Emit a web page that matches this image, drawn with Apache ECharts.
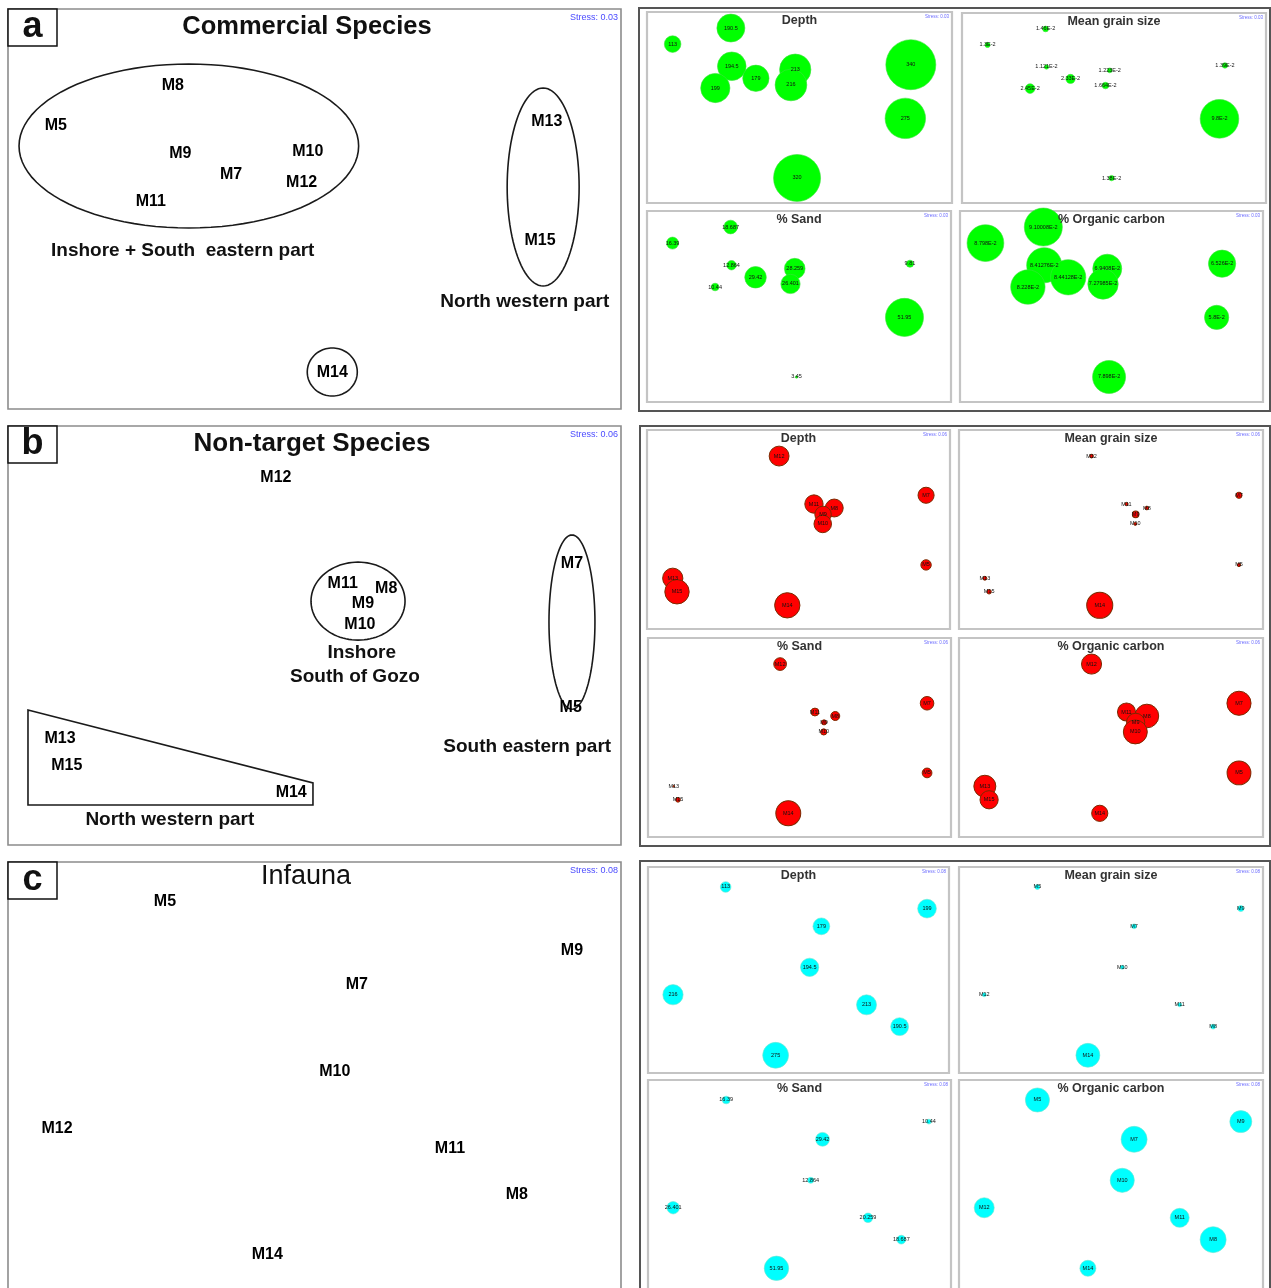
<!DOCTYPE html>
<html><head><meta charset="utf-8">
<script src="https://cdn.jsdelivr.net/npm/echarts@6/dist/echarts.min.js"></script>
<style>html,body{margin:0;padding:0;background:#fff}#c{width:1271px;height:1288px}</style>
</head><body><div id="c"></div>
<script>
// ---------------- DATA ----------------
// Row a : Commercial species (MDS ordination, axis units 0-100)
const stationsA = ['M5','M8','M9','M11','M7','M10','M12','M13','M15','M14'];
const mdsAx = [7.8, 26.9, 28.1, 23.3, 36.4, 48.9, 47.9, 87.9, 86.8, 52.9];
const mdsAy = [70.8, 80.8, 63.8, 51.8, 58.5, 64.3, 56.5, 71.8, 42.0, 9.0];
const bubAx = [8.4, 27.5, 27.8, 22.4, 35.7, 48.6, 47.2, 86.5, 84.7, 49.2];
const bubAy = [83.2, 91.6, 71.6, 60.2, 65.3, 69.8, 61.8, 72.4, 44.3, 13.1];
const depthA  = [113, 190.5, 194.5, 199, 179, 213, 216, 340, 275, 320];
const grainA  = [0.013, 0.0146, 0.01121, 0.0245, 0.0233, 0.01223, 0.01664, 0.0139, 0.098, 0.0138];
const sandA   = [16.39, 18.687, 12.864, 10.44, 29.42, 28.259, 26.401, 9.81, 51.95, 3.45];
const carbonA = [0.08798, 0.0910008, 0.0841276, 0.08228, 0.0844128, 0.069408, 0.0727985, 0.06526, 0.058, 0.07898];
const groupLabelsA = [['Inshore + South  eastern part', 28.5, 39.5], ['North western part', 84.3, 26.75]];
const ellipsesA = [[29.5, 65.75, 27.7, 20.5], [87.3, 55.5, 5.87, 24.75], [52.9, 9.25, 4.08, 6.0]];

// Row b : Non-target species
const stationsB = ['M12','M11','M8','M9','M10','M7','M5','M13','M15','M14'];
const mdsBx = [43.7, 54.6, 61.7, 57.9, 57.4, 92.0, 91.8, 8.5, 9.6, 46.2];
const mdsBy = [87.6, 62.5, 61.3, 57.5, 52.7, 67.1, 32.9, 25.5, 18.9, 12.4];
const bubBx = [43.6, 55.1, 61.8, 58.1, 58.0, 92.1, 92.1, 8.5, 9.9, 46.3];
const bubBy = [86.9, 62.8, 60.8, 57.6, 52.8, 67.2, 32.2, 25.5, 18.7, 11.9];
const depthB  = [216, 199, 194.5, 179, 190.5, 175, 113, 220, 265, 275];
const grainB  = [0.0139, 0.0122, 0.0138, 0.0245, 0.0112, 0.0233, 0.013, 0.0146, 0.0166, 0.098];
const sandB   = [26.401, 16.39, 18.687, 10.44, 12.864, 28.259, 20.259, 3.45, 9.81, 51.95];
const carbonB = [0.0773, 0.0694, 0.0910, 0.0703, 0.0921, 0.0928, 0.0915, 0.0846, 0.0700, 0.0622];
const groupLabelsB = [['Inshore', 57.7, 45.8], ['South of Gozo', 56.6, 40.1], ['South eastern part', 84.7, 23.4], ['North western part', 26.4, 6.0]];
const ellipsesB = [[57.1, 58.2, 7.67, 9.31], [92.0, 53.2, 3.75, 20.8]];
const polygonB = [[3.26, 32.2], [49.75, 14.8], [49.75, 9.55], [3.26, 9.55]];

// Row c : Infauna
const stationsC = ['M5','M9','M7','M10','M12','M11','M8','M14'];
const mdsCx = [25.6, 92.0, 56.9, 53.3, 8.0, 72.1, 83.0, 42.3];
const mdsCy = [90.7, 79.2, 71.3, 50.9, 37.4, 32.7, 22.0, 7.9];
const bubCx = [25.8, 92.7, 57.6, 53.7, 8.3, 72.6, 83.6, 42.4];
const bubCy = [90.3, 79.8, 71.2, 51.3, 38.0, 33.1, 22.5, 8.6];
const depthC  = [113, 199, 179, 194.5, 216, 213, 190.5, 275];
const grainC  = [0.0205, 0.0245, 0.0201, 0.0164, 0.0166, 0.0165, 0.0202, 0.098];
const sandC   = [16.39, 10.44, 29.42, 12.864, 26.401, 20.259, 18.687, 51.95];
const carbonC = [0.0844, 0.0769, 0.0910, 0.0844, 0.0700, 0.0664, 0.0910, 0.0560];

const panelTitles = ['Commercial Species', 'Non-target Species', 'Infauna'];
const panelLetters = ['a', 'b', 'c'];
const stressLabels = ['Stress: 0.03', 'Stress: 0.06', 'Stress: 0.08'];
const variableTitles = ['Depth', 'Mean grain size', '% Sand', '% Organic carbon'];

// ---------------- LAYOUT / STYLE ----------------
const FONT = '"Liberation Sans", Arial, sans-serif';
const leftPanels = [
  {frame: [8, 9, 613, 400], grid: [8, 9, 613, 400], st: stationsA, x: mdsAx, y: mdsAy, groups: groupLabelsA, ellipses: ellipsesA, polygon: null, titleX: 307, titleY: 27, titleSize: 25.5, titleWeight: 'bold'},
  {frame: [8, 426, 613, 419], grid: [8, 426, 613, 419], st: stationsB, x: mdsBx, y: mdsBy, groups: groupLabelsB, ellipses: ellipsesB, polygon: polygonB, titleX: 312, titleY: 444, titleSize: 26, titleWeight: 'bold'},
  {frame: [8, 862, 613, 440], grid: [8, 862, 613, 428], st: stationsC, x: mdsCx, y: mdsCy, groups: [], ellipses: [], polygon: null, titleX: 306, titleY: 877, titleSize: 27, titleWeight: 'normal'}
];
const rightRows = [
  {frame: [639, 8, 631, 403], subs: [[647, 12, 305, 191], [962, 13, 304, 190], [647, 211, 304, 191], [960, 211, 303, 191]],
   st: stationsA, bx: bubAx, by: bubAy, vals: [depthA, grainA, sandA, carbonA], k: [0.0735, 197, 0.366, 209],
   fmt: ['num', 'e2', 'num', 'e2'], fill: '#00ff00', border: '#3ee03e', bw: 0.6},
  {frame: [640, 426, 630, 420], subs: [[647, 430, 303, 199], [959, 430, 304, 199], [648, 638, 303, 199], [959, 638, 304, 199]],
   st: stationsB, bx: bubBx, by: bubBy, vals: [depthB, grainB, sandB, carbonB], k: [0.046, 133, 0.24, 130],
   fmt: ['name', 'name', 'name', 'name'], fill: '#ff0000', border: '#7a2a00', bw: 1},
  {frame: [640, 861, 630, 440], subs: [[648, 867, 301, 206], [959, 867, 304, 206], [648, 1080, 303, 206], [959, 1080, 304, 206]],
   subFrameH: 230,
   st: stationsC, bx: bubCx, by: bubCy, vals: [depthC, grainC, sandC, carbonC], k: [0.047, 122, 0.235, 143],
   fmt: ['num', 'name', 'num', 'name'], fill: '#00ffff', border: '#6fe6d0', bw: 0.6}
];

function fmtVal(v, mode, name) {
  if (mode === 'name') return name;
  if (mode === 'e2') return parseFloat((v * 100).toFixed(5)) + 'E-2';
  return String(v);
}

const grids = [], xAxes = [], yAxes = [], series = [], graphics = [];
function addGrid(r) {
  const idx = grids.length;
  grids.push({left: r[0], top: r[1], width: r[2], height: r[3], show: false});
  xAxes.push({gridIndex: idx, type: 'value', min: 0, max: 100, show: false});
  yAxes.push({gridIndex: idx, type: 'value', min: 0, max: 100, show: false});
  return idx;
}
function frameRect(r, stroke, lw, z) {
  graphics.push({type: 'rect', z: z || 1, silent: true, shape: {x: r[0], y: r[1], width: r[2], height: r[3]},
    style: {fill: 'none', stroke: stroke, lineWidth: lw}});
}
function text(x, y, t, size, weight, color, align, z) {
  graphics.push({type: 'text', x: x, y: y, z: z || 100, silent: true,
    style: {text: t, fontFamily: FONT, fontSize: size, fontWeight: weight, fill: color, align: align || 'center', verticalAlign: 'middle'}});
}

// Left MDS panels
leftPanels.forEach((p, i) => {
  const g = addGrid(p.grid);
  frameRect(p.frame, '#8c8c8c', 1.6, 1);
  // station labels
  series.push({type: 'scatter', xAxisIndex: g, yAxisIndex: g, symbolSize: 1, itemStyle: {color: 'rgba(0,0,0,0)', opacity: 1},
    data: p.st.map((s, j) => [p.x[j], p.y[j], s]),
    label: {show: true, position: 'inside', formatter: q => q.value[2], fontFamily: FONT, fontWeight: 'bold', fontSize: 16, color: '#000'},
    silent: true, z: 5});
  if (p.groups.length) {
    series.push({type: 'scatter', xAxisIndex: g, yAxisIndex: g, symbolSize: 1, itemStyle: {color: 'rgba(0,0,0,0)', opacity: 1},
      data: p.groups.map(a => [a[1], a[2], a[0]]),
      label: {show: true, position: 'inside', formatter: q => q.value[2], fontFamily: FONT, fontWeight: 'bold', fontSize: 19, color: '#111'},
      silent: true, z: 5});
  }
  if (p.ellipses.length) {
    series.push({type: 'custom', xAxisIndex: g, yAxisIndex: g, silent: true, clip: false,
      data: p.ellipses, encode: {x: 0, y: 1},
      renderItem: (params, api) => {
        const c = api.coord([api.value(0), api.value(1)]);
        const s = api.size([api.value(2), api.value(3)]);
        const pts = [];
        for (let t = 0; t < 96; t++) {
          const a = t / 96 * Math.PI * 2;
          pts.push([c[0] + s[0] * Math.cos(a), c[1] + s[1] * Math.sin(a)]);
        }
        return {type: 'polygon', shape: {points: pts}, style: {fill: 'none', stroke: '#1a1a1a', lineWidth: 1.6}};
      }});
  }
  if (p.polygon) {
    const poly = p.polygon;
    series.push({type: 'custom', xAxisIndex: g, yAxisIndex: g, silent: true, clip: false,
      data: [[poly[0][0], poly[0][1]]],
      renderItem: (params, api) => ({type: 'polygon', shape: {points: poly.map(pt => api.coord(pt))},
        style: {fill: 'none', stroke: '#1a1a1a', lineWidth: 1.6}})});
  }
  // title, stress, letter box
  text(p.titleX, p.titleY, panelTitles[i], p.titleSize, p.titleWeight, '#111');
  text(p.frame[0] + p.frame[2] - 3, p.frame[1] + 9, stressLabels[i], 9, 'normal', '#4b4bff', 'right');
  graphics.push({type: 'rect', z: 99, silent: true, shape: {x: p.frame[0], y: p.frame[1], width: 49, height: 37},
    style: {fill: '#fff', stroke: '#111', lineWidth: 1.5}});
  text(p.frame[0] + 24.5, p.frame[1] + 18, panelLetters[i], 36, 'bold', '#111');
});

// Right bubble panels
rightRows.forEach((row, i) => {
  frameRect(row.frame, '#555', 2, 1);
  row.subs.forEach((r, v) => {
    const g = addGrid(r);
    frameRect([r[0], r[1], r[2], row.subFrameH && v >= 2 ? row.subFrameH : r[3]], '#c4c4c4', 2.2, 1);
    const k = row.k[v], mode = row.fmt[v], vals = row.vals[v];
    series.push({type: 'scatter', xAxisIndex: g, yAxisIndex: g, silent: true, z: 3,
      data: row.st.map((s, j) => [row.bx[j], row.by[j], vals[j], s]),
      symbolSize: val => 2 * val[2] * k,
      itemStyle: {color: row.fill, borderColor: row.border, borderWidth: row.bw, opacity: 1},
      label: {show: true, position: 'inside', formatter: q => fmtVal(q.value[2], mode, q.value[3]),
        fontFamily: FONT, fontSize: 5.5, color: '#111'}});
    text(r[0] + r[2] / 2, r[1] + 9, variableTitles[v], 12.5, 'bold', '#333');
    text(r[0] + r[2] - 3, r[1] + 5, stressLabels[i], 4.5, 'normal', '#6b6bff', 'right');
  });
});

const chart = echarts.init(document.getElementById('c'));
chart.setOption({
  animation: false,
  backgroundColor: '#ffffff',
  grid: grids, xAxis: xAxes, yAxis: yAxes, series: series,
  graphic: {elements: graphics}
});
</script></body></html>
